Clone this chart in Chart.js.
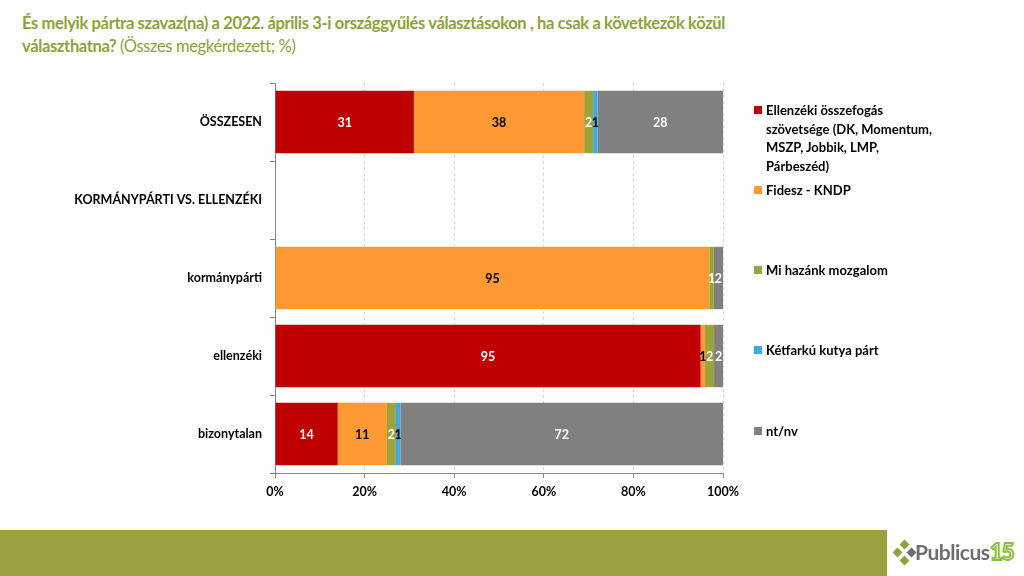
<!DOCTYPE html>
<html>
<head>
<meta charset="utf-8">
<script src="https://cdn.jsdelivr.net/npm/chart.js@4"></script>
<style>
  html, body { margin: 0; padding: 0; background: #fff; }
  body { width: 1024px; height: 576px; position: relative; overflow: hidden; font-family: Lato, "Open Sans", sans-serif; }
  #title { position: absolute; left: 22px; top: 12px; width: 950px; color: #8FA13A; font-size: 16.5px; line-height: 23px; font-weight: bold; letter-spacing: -0.35px; white-space: nowrap; }
  #title span { font-weight: normal; }
  #wrap { position: absolute; left: 0; top: 0; width: 1024px; height: 576px; }
  #legend { position: absolute; left: 752px; top: 0; width: 200px; }
  .item { position: absolute; left: 0; width: 186px; font-size: 13px; font-weight: bold; line-height: 18.5px; color: #000; padding-left: 14px; box-sizing: border-box; }
  .item i { position: absolute; left: 2px; top: 5px; width: 8px; height: 8px; }
  #band { position: absolute; left: 0; top: 530px; width: 887px; height: 46px; background: #98A13E; }
  #logo { position: absolute; left: 893px; top: 538px; height: 30px; }
  #logo .txt { position: absolute; left: 22px; top: 1px; font-size: 21px; font-weight: bold; color: #6d6e71; letter-spacing: -0.5px; }
  #logo .num { position: absolute; left: 97px; top: 0px; font-size: 22px; font-weight: 900; color: #fff; -webkit-text-stroke: 2px #8dbf3f; letter-spacing: -1px; }
  .dia { position: absolute; width: 7px; height: 7px; transform: rotate(45deg); }
</style>
</head>
<body>
<div id="title">És melyik pártra szavaz(na) a 2022. április 3-i országgyűlés választásokon , ha csak a következők közül<br>választhatna? <span>(Összes megkérdezett; %)</span></div>
<div id="wrap"><canvas id="chart"></canvas></div>
<div id="legend"></div>
<div id="band"></div>
<div id="logo">
  <div class="dia" style="left:8px;top:3px;background:#8FA13A"></div>
  <div class="dia" style="left:1px;top:11px;background:#8FA13A"></div>
  <div class="dia" style="left:15px;top:11px;background:#6d6e71"></div>
  <div class="dia" style="left:8px;top:19px;background:#8FA13A"></div>
  <div class="txt">Publicus</div>
  <div class="num">15</div>
</div>
<script>
// kategóriák (y tengely)
const categories = ["ÖSSZESEN", "KORMÁNYPÁRTI VS. ELLENZÉKI", "kormánypárti", "ellenzéki", "bizonytalan"];

// sorozatok nevei
const seriesNames = [
    "Ellenzéki összefogás szövetsége (DK, Momentum, MSZP, Jobbik, LMP, Párbeszéd)",
    "Fidesz - KNDP",
    "Mi hazánk mozgalom",
    "Kétfarkú kutya párt",
    "nt/nv"
];

// értékek (%)
const ellenzekiValues = [31, null, 0, 95, 14];
const fideszValues    = [38, null, 95, 1, 11];
const miHazankValues  = [2, null, 1, 2, 2];
const ketfarkuValues  = [1, null, 0, 0, 1];
const ntnvValues      = [28, null, 2, 2, 72];

// x tengely
const xTicks = [0, 20, 40, 60, 80, 100];

const seriesColors = ["#C00000", "#FF9933", "#9BA33D", "#3EA9E3", "#808080"];
const labelColors  = ["#ffffff", "#000000", "#ffffff", "#000000", "#ffffff"];

const allSeries = [ellenzekiValues, fideszValues, miHazankValues, ketfarkuValues, ntnvValues];

// 100%-ra normalizálás (mint az Excel 100%-os halmozott sávdiagram)
const totals = categories.map((c, i) =>
    allSeries.reduce((s, arr) => s + (arr[i] || 0), 0));

const datasets = allSeries.map((arr, k) => ({
    label: seriesNames[k],
    data: arr.map((v, i) => (v === null || totals[i] === 0) ? null : v / totals[i] * 100),
    raw: arr,
    backgroundColor: seriesColors[k],
    borderWidth: 0,
    barPercentage: 0.8,
    categoryPercentage: 1.0
}));

// adatcímkék
const valueLabels = {
    id: "valueLabels",
    afterDatasetsDraw(chart) {
        const ctx = chart.ctx;
        ctx.save();
        ctx.font = "bold 12.5px Lato, 'Open Sans', sans-serif";
        ctx.textAlign = "center";
        ctx.textBaseline = "middle";
        chart.data.datasets.forEach((ds, k) => {
            const meta = chart.getDatasetMeta(k);
            meta.data.forEach((bar, i) => {
                const v = ds.raw[i];
                if (!v) return;
                const p = bar.getCenterPoint();
                ctx.fillStyle = labelColors[k];
                ctx.fillText(String(v), p.x, p.y + 1);
            });
        });
        ctx.restore();
    }
};

// jelmagyarázat
const legendTops = [101, 181, 261, 341, 422];
const legendEl = document.getElementById("legend");
seriesNames.forEach((name, k) => {
    const d = document.createElement("div");
    d.className = "item";
    d.style.top = legendTops[k] + "px";
    d.innerHTML = '<i style="background:' + seriesColors[k] + '"></i>' + name;
    legendEl.appendChild(d);
});

Chart.defaults.font.family = "Lato, 'Open Sans', sans-serif";
Chart.defaults.color = "#000";

new Chart(document.getElementById("chart"), {
    type: "bar",
    data: { labels: categories, datasets: datasets },
    options: {
        indexAxis: "y",
        responsive: true,
        maintainAspectRatio: false,
        animation: false,
        layout: { padding: { top: 83, right: 301, bottom: 73, left: 0 } },
        plugins: {
            legend: { display: false },
            tooltip: { enabled: false }
        },
        scales: {
            x: {
                stacked: true,
                min: 0,
                max: 100,
                afterBuildTicks(axis) {
                    axis.ticks = xTicks.map(v => ({ value: v }));
                },
                afterFit(axis) { axis.height = 30; },
                ticks: {
                    callback: v => v + "%",
                    font: { size: 12.5, weight: "bold" },
                    padding: 6
                },
                grid: {
                    color: "#D9D9D9",
                    tickColor: "#868686",
                    tickLength: 5,
                    tickBorderDash: []
                },
                border: { color: "#868686", dash: [3, 3] }
            },
            y: {
                stacked: true,
                afterFit(axis) { axis.width = 275; },
                ticks: {
                    font: { size: 12.5, weight: "bold" },
                    padding: 8
                },
                grid: {
                    drawOnChartArea: false,
                    tickColor: "#868686",
                    tickLength: 5,
                    offset: true
                },
                border: { color: "#868686" }
            }
        }
    },
    plugins: [valueLabels]
});
</script>
</body>
</html>
